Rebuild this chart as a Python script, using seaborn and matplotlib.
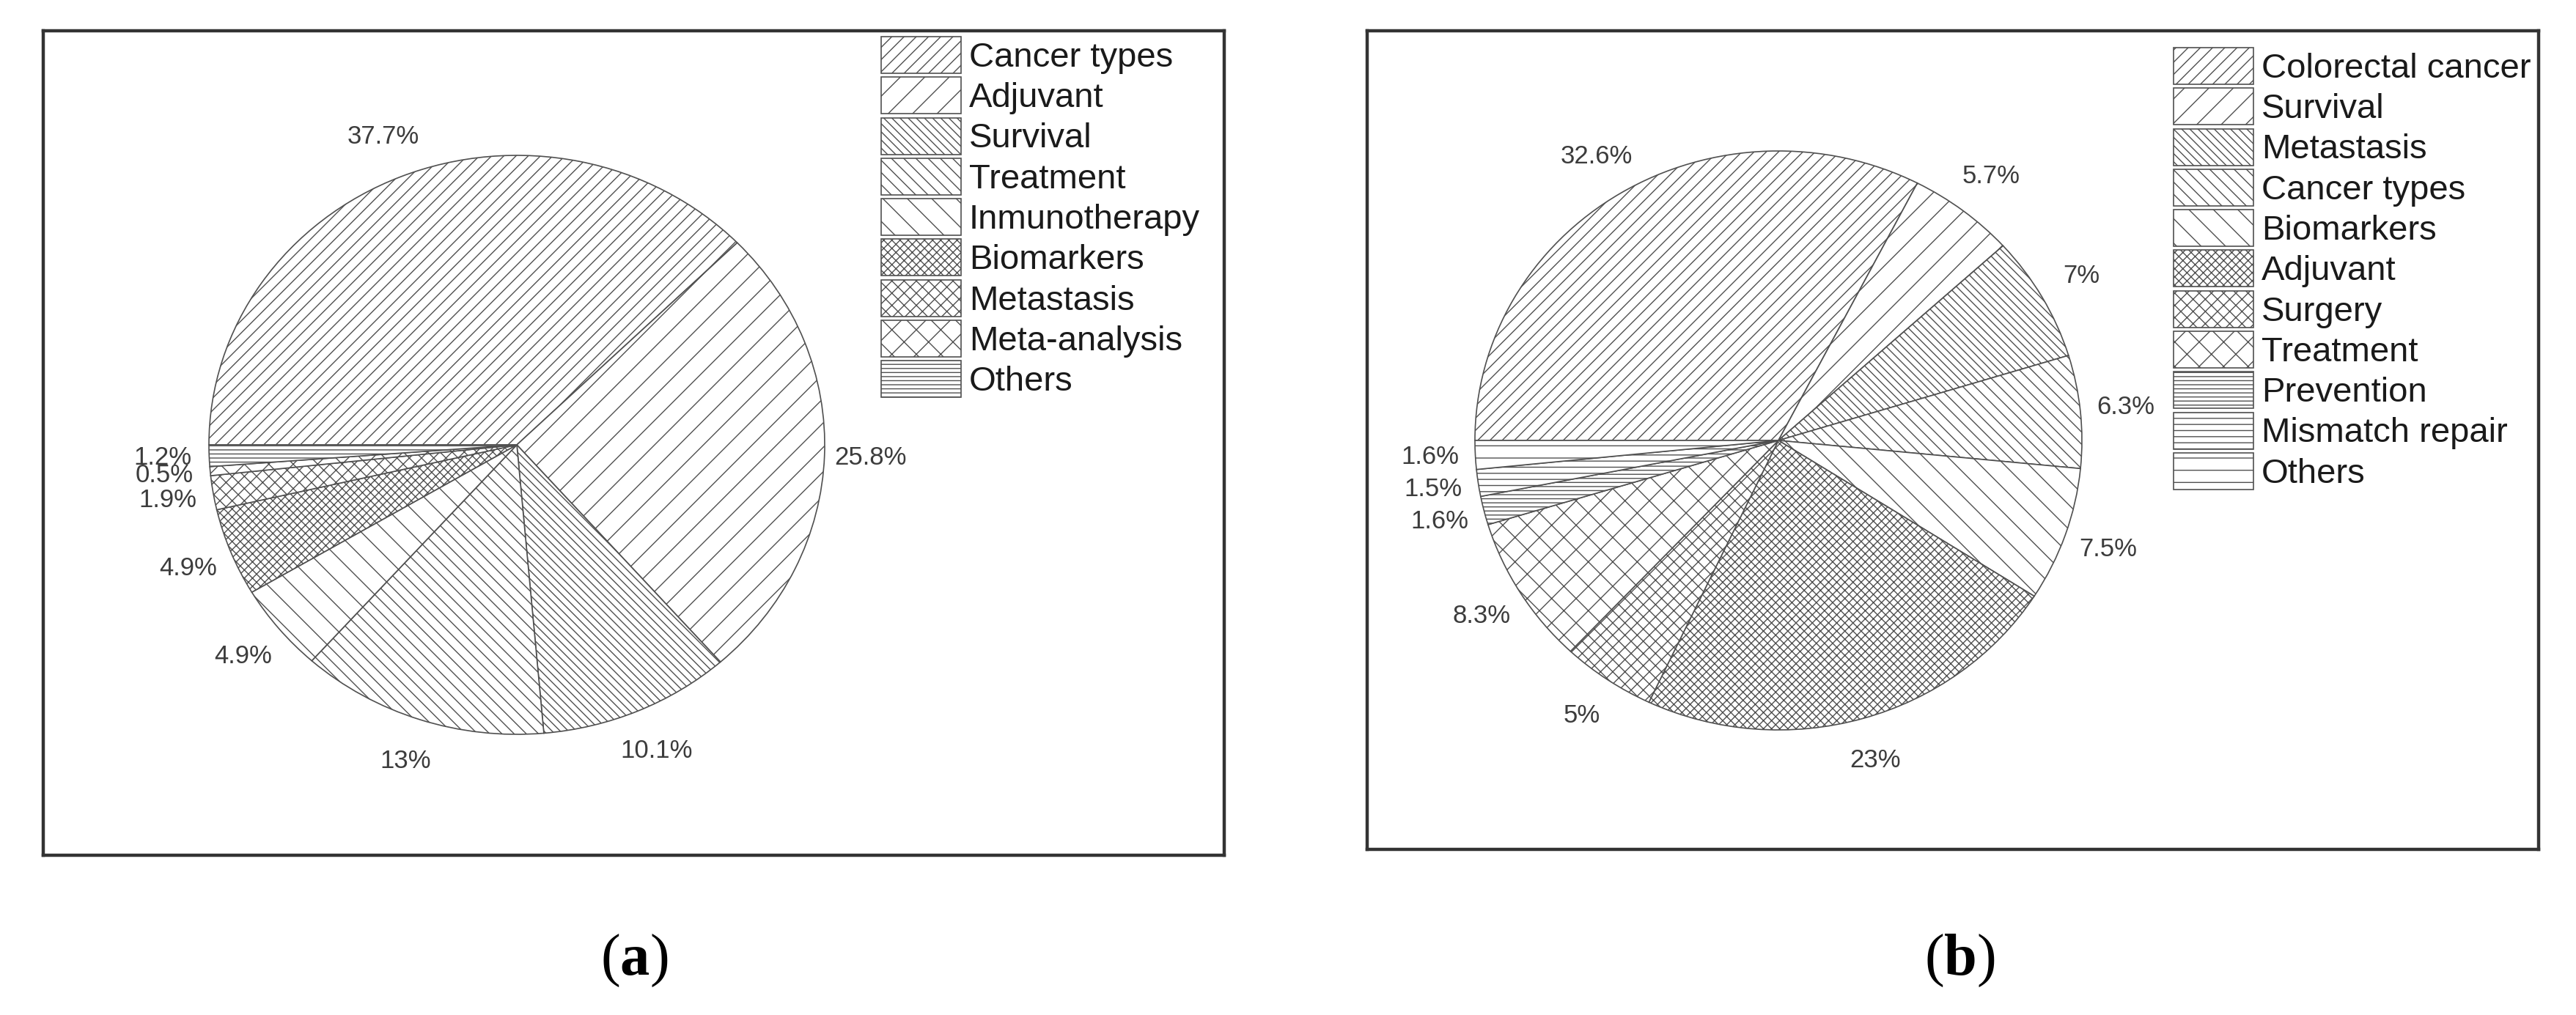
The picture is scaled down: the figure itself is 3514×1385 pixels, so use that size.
import matplotlib
matplotlib.use('Agg')
import matplotlib.pyplot as plt
import seaborn as sns

sns.set_theme(style='white')
plt.rcParams['font.family'] = ['Liberation Sans', 'DejaVu Sans']
plt.rcParams['hatch.linewidth'] = 1.0
plt.rcParams['mathtext.fontset'] = 'custom'
plt.rcParams['mathtext.rm'] = 'Liberation Serif'
plt.rcParams['mathtext.bf'] = 'Liberation Serif:bold'

W, H, DPI = 3514, 1385, 100
EDGE = '#505050'
TEXT = '#3c3c3c'

# panel (a)
topics_a = ['Cancer types', 'Adjuvant', 'Survival', 'Treatment', 'Inmunotherapy',
            'Biomarkers', 'Metastasis', 'Meta-analysis', 'Others']
share_a = [37.7, 25.8, 10.1, 13, 4.9, 4.9, 1.9, 0.5, 1.2]
hatch_a = ['//', '/', '\\\\\\', '\\\\', '\\', 'xxx', 'xx', 'x', '---']

# panel (b)
topics_b = ['Colorectal cancer', 'Survival', 'Metastasis', 'Cancer types', 'Biomarkers',
            'Adjuvant', 'Surgery', 'Treatment', 'Prevention', 'Mismatch repair', 'Others']
share_b = [32.6, 5.7, 7, 6.3, 7.5, 23, 5, 8.3, 1.6, 1.5, 1.6]
hatch_b = ['//', '/', '\\\\\\', '\\\\', '\\', 'xxx', 'xx', 'x', '---', '--', '-']


def draw_panel(fig, box, center, rad, topics, share, hatches, legend_xy, tag, letter):
    # box / center / legend in pixels from top-left of the figure
    x0, y0, x1, y1 = box
    ax = fig.add_axes([x0 / W, 1 - y1 / H, (x1 - x0) / W, (y1 - y0) / H])
    cx, cy = center
    rx, ry = rad
    wedges, texts = ax.pie(share, labels=[f'{v:g}%' for v in share],
                           startangle=180, counterclock=False,
                           labeldistance=1.15, radius=1, frame=True,
                           colors=['white'] * len(share), hatch=hatches,
                           wedgeprops=dict(edgecolor=EDGE, linewidth=1.2),
                           textprops=dict(fontsize=25, color=TEXT))
    for t in texts:
        t.set_ha('center')
    ax.set_aspect('auto')
    ax.set_xlim(-(cx - x0) / rx, (x1 - cx) / rx)
    ax.set_ylim(-(y1 - cy) / ry, (cy - y0) / ry)
    ax.set_xticks([])
    ax.set_yticks([])
    for s in ax.spines.values():
        s.set_visible(True)
        s.set_color('#333333')
        s.set_linewidth(3.2)

    lx, ly = legend_xy
    ax.legend(wedges, topics, loc='upper left', bbox_to_anchor=(lx / W, 1 - ly / H),
              bbox_transform=fig.transFigure, frameon=False, borderpad=0, borderaxespad=0,
              fontsize=34, handlelength=2.31, handleheight=1.25, labelspacing=0.094,
              handletextpad=0.23, labelcolor='#1a1a1a')

    tx, ty = tag
    fig.text(tx / W, 1 - ty / H, r'($\mathbf{' + letter + '}$)', ha='center', va='center',
             fontsize=58, family='Liberation Serif', color='black')
    return ax


fig = plt.figure(figsize=(W / DPI, H / DPI), dpi=DPI)
fig.patch.set_facecolor('white')

draw_panel(fig, (59, 42, 1670, 1167), (705, 607), (420, 395),
           topics_a, share_a, hatch_a, (1202, 50), (865, 1311), 'a')
draw_panel(fig, (1865, 42, 3463, 1159), (2426, 601), (414, 395),
           topics_b, share_b, hatch_b, (2965, 65), (2673, 1311), 'b')

fig.savefig('out.png', dpi=DPI, facecolor='white')
